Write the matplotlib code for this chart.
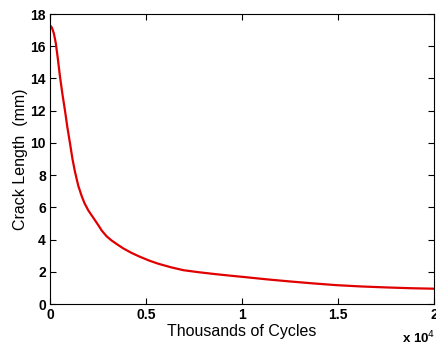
import numpy as np
import matplotlib.pyplot as plt

# crack length vs cycles
cycles = [0, 100, 200, 300, 400, 521, 650, 781, 900, 1042, 1170, 1302, 1470, 1649, 1800,
          2000, 2257, 2500, 2700, 2951, 3200, 3500, 3819, 4250, 4688, 5200, 5641, 6300,
          6944, 7700, 8500, 9300, 10069, 11300, 12500, 13700, 14931, 16200, 17500, 18800, 20000]
crack = [17.3, 17.15, 16.8, 16.2, 15.3, 14.1, 13.0, 12.0, 11.0, 9.97, 9.0, 8.2, 7.35, 6.7, 6.25,
         5.8, 5.35, 4.92, 4.55, 4.2, 3.95, 3.7, 3.45, 3.17, 2.93, 2.68, 2.50, 2.28,
         2.10, 1.98, 1.87, 1.77, 1.68, 1.53, 1.40, 1.28, 1.17, 1.09, 1.03, 0.98, 0.95]
xticks = [0, 5000, 10000, 15000, 20000]
xticklabels = ['0', '0.5', '1', '1.5', '2']
yticks = [0, 2, 4, 6, 8, 10, 12, 14, 16, 18]

plt.rcParams['font.family'] = ['Liberation Sans', 'DejaVu Sans']

fig = plt.figure(figsize=(4.36, 3.45), dpi=100)
ax = fig.add_axes([0.1147, 0.1188, 0.8807, 0.8406])
ax.plot(cycles, crack, color='#e00000', lw=1.6)
ax.set_xlim(0, 20000)
ax.set_ylim(0, 18)
ax.set_xticks(xticks)
ax.set_xticklabels(xticklabels)
ax.set_yticks(yticks)
ax.tick_params(direction='in', top=True, right=True, length=4, width=0.8,
               labelsize=10, pad=3)
for lab in ax.get_xticklabels() + ax.get_yticklabels():
    lab.set_fontweight('bold')
for sp in ax.spines.values():
    sp.set_linewidth(0.8)
ax.set_xlabel('Thousands of Cycles', fontsize=11.5, labelpad=1)
ax.set_ylabel('Crack Length  (mm)', fontsize=11.5, labelpad=2)
fig.text(0.922, 0.02, r'x 10$^4$', fontsize=9.5, fontweight='bold', ha='left',
         va='center')

fig.savefig('out.png', dpi=100)
